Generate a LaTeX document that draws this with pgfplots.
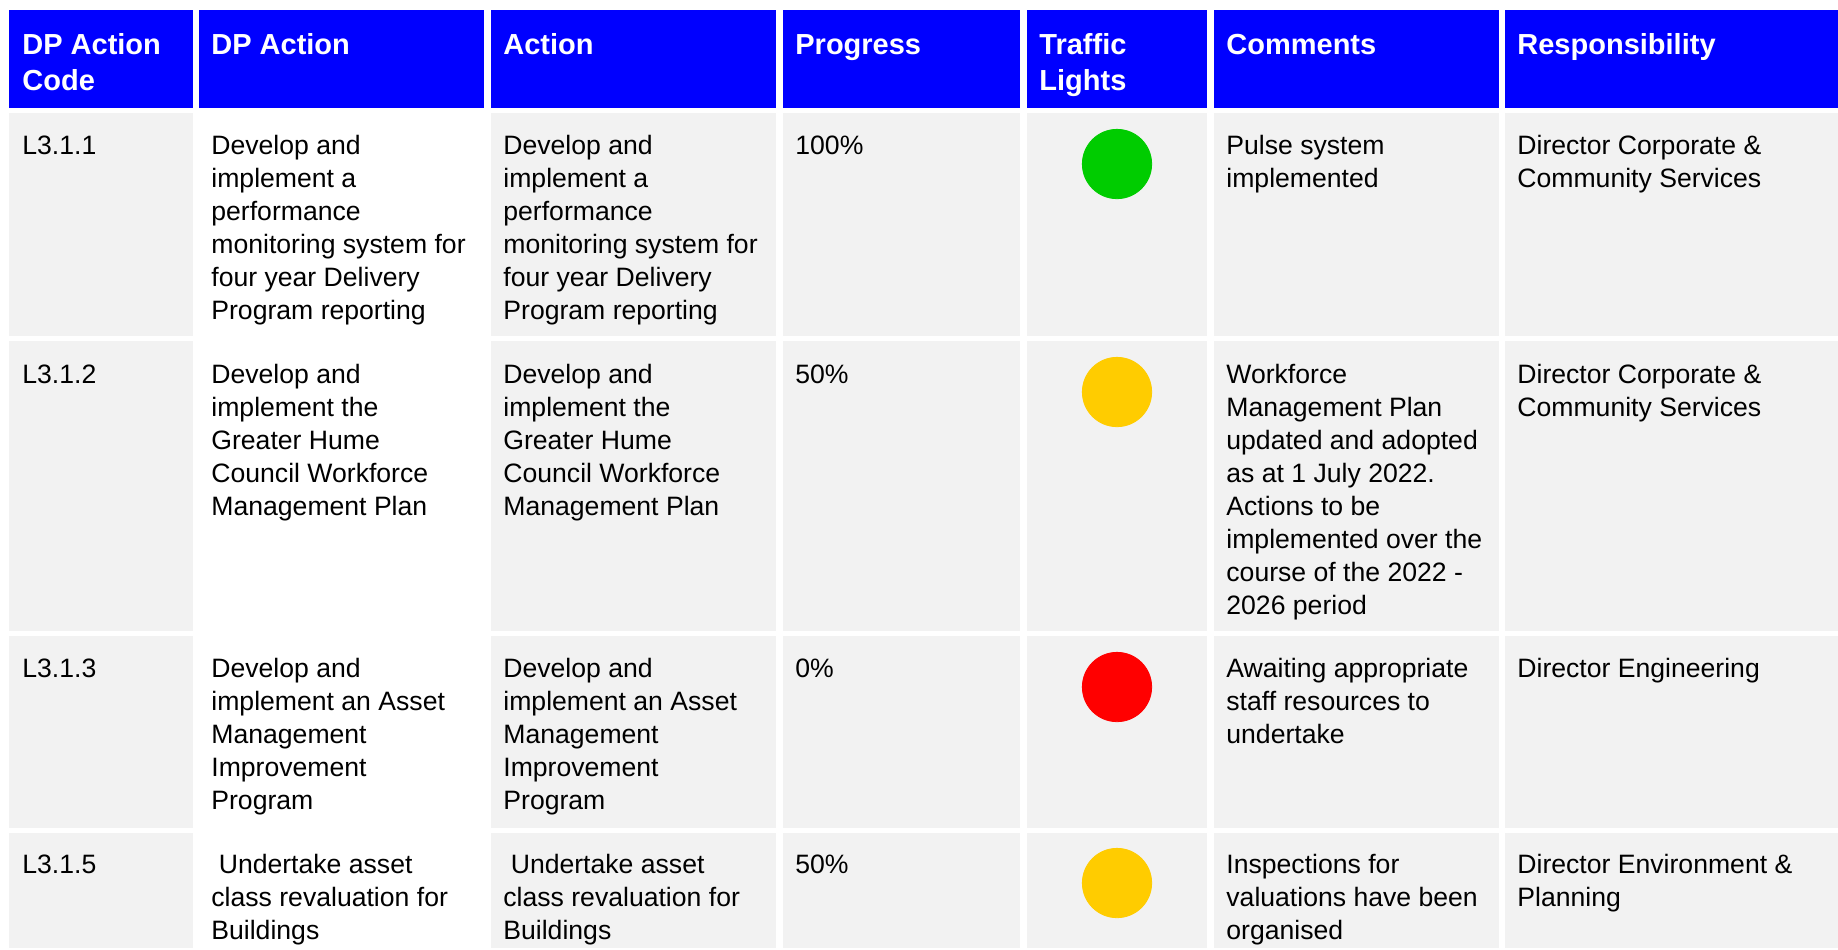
\documentclass[border=0pt]{standalone}
\usepackage{pgfplots}
\pgfplotsset{compat=1.18}
\usepackage{fontspec}
\setmainfont{Liberation Sans}
\definecolor{hblue}{HTML}{0000FF}
\definecolor{cgrey}{HTML}{F2F2F2}
\definecolor{tlgreen}{HTML}{00CC00}
\definecolor{tlyellow}{HTML}{FFCC00}
\definecolor{tlred}{HTML}{FF0000}
\newcommand{\cellbox}[5]{\addplot[fill=#5,draw=none] coordinates {(#1,#2) (#3,#2) (#3,#4) (#1,#4)} -- cycle;}
\newcommand{\hdr}[3]{\node[anchor=base west,inner sep=0pt,text=white] at (axis cs:#1,#2) {\fontsize{14.5bp}{18bp}\selectfont\bfseries\begin{tabular}[t]{@{}l@{}}#3\end{tabular}};}
\newcommand{\bod}[3]{\node[anchor=base west,inner sep=0pt] at (axis cs:#1,#2) {\fontsize{13.3bp}{16.55bp}\selectfont\begin{tabular}[t]{@{}l@{}}#3\end{tabular}};}
\begin{document}
\begin{tikzpicture}
\begin{axis}[
  scale only axis, width=919bp, height=474bp,
  xmin=0, xmax=1838, ymin=0, ymax=948, y dir=reverse,
  hide axis, clip=false]
% white page background (spans the whole axis)
\cellbox{0}{0}{1838}{948}{white}
% header cells
\cellbox{9}{10}{193}{108}{hblue}
\cellbox{199}{10}{484}{108}{hblue}
\cellbox{491}{10}{776}{108}{hblue}
\cellbox{783}{10}{1020}{108}{hblue}
\cellbox{1027}{10}{1207}{108}{hblue}
\cellbox{1214}{10}{1499}{108}{hblue}
\cellbox{1505}{10}{1838}{108}{hblue}
% data rows (column 2 is white)
\cellbox{9}{113}{193}{336}{cgrey}
\cellbox{491}{113}{776}{336}{cgrey}
\cellbox{783}{113}{1020}{336}{cgrey}
\cellbox{1027}{113}{1207}{336}{cgrey}
\cellbox{1214}{113}{1499}{336}{cgrey}
\cellbox{1505}{113}{1838}{336}{cgrey}
\cellbox{9}{341}{193}{631}{cgrey}
\cellbox{491}{341}{776}{631}{cgrey}
\cellbox{783}{341}{1020}{631}{cgrey}
\cellbox{1027}{341}{1207}{631}{cgrey}
\cellbox{1214}{341}{1499}{631}{cgrey}
\cellbox{1505}{341}{1838}{631}{cgrey}
\cellbox{9}{636}{193}{828}{cgrey}
\cellbox{491}{636}{776}{828}{cgrey}
\cellbox{783}{636}{1020}{828}{cgrey}
\cellbox{1027}{636}{1207}{828}{cgrey}
\cellbox{1214}{636}{1499}{828}{cgrey}
\cellbox{1505}{636}{1838}{828}{cgrey}
\cellbox{9}{833}{193}{948}{cgrey}
\cellbox{491}{833}{776}{948}{cgrey}
\cellbox{783}{833}{1020}{948}{cgrey}
\cellbox{1027}{833}{1207}{948}{cgrey}
\cellbox{1214}{833}{1499}{948}{cgrey}
\cellbox{1505}{833}{1838}{948}{cgrey}
% traffic lights
\addplot[only marks, mark=*, mark size=17.4pt, color=tlgreen] coordinates {(1117,164)};
\addplot[only marks, mark=*, mark size=17.4pt, color=tlyellow] coordinates {(1117,392) (1117,883)};
\addplot[only marks, mark=*, mark size=17.4pt, color=tlred] coordinates {(1117,687)};
% header text
\hdr{22}{54}{DP Action\\Code}
\hdr{211}{54}{DP Action}
\hdr{503}{54}{Action}
\hdr{795}{54}{Progress}
\hdr{1039}{54}{Traffic\\Lights}
\hdr{1226}{54}{Comments}
\hdr{1517}{54}{Responsibility}
% row 1
\bod{22}{154}{L3.1.1}
\bod{211}{154}{Develop and\\implement a\\performance\\monitoring system for\\four year Delivery\\Program reporting}
\bod{503}{154}{Develop and\\implement a\\performance\\monitoring system for\\four year Delivery\\Program reporting}
\bod{795}{154}{100\%}
\bod{1226}{154}{Pulse system\\implemented}
\bod{1517}{154}{Director Corporate \&\\Community Services}
% row 2
\bod{22}{383}{L3.1.2}
\bod{211}{383}{Develop and\\implement the\\Greater Hume\\Council Workforce\\Management Plan}
\bod{503}{383}{Develop and\\implement the\\Greater Hume\\Council Workforce\\Management Plan}
\bod{795}{383}{50\%}
\bod{1226}{383}{Workforce\\Management Plan\\updated and adopted\\as at 1 July 2022.\\Actions to be\\implemented over the\\course of the 2022 -\\2026 period}
\bod{1517}{383}{Director Corporate \&\\Community Services}
% row 3
\bod{22}{677}{L3.1.3}
\bod{211}{677}{Develop and\\implement an Asset\\Management\\Improvement\\Program}
\bod{503}{677}{Develop and\\implement an Asset\\Management\\Improvement\\Program}
\bod{795}{677}{0\%}
\bod{1226}{677}{Awaiting appropriate\\staff resources to\\undertake}
\bod{1517}{677}{Director Engineering}
% row 4
\bod{22}{873}{L3.1.5}
\bod{211}{873}{\hspace*{3.7bp}Undertake asset\\class revaluation for\\Buildings}
\bod{503}{873}{\hspace*{3.7bp}Undertake asset\\class revaluation for\\Buildings}
\bod{795}{873}{50\%}
\bod{1226}{873}{Inspections for\\valuations have been\\organised}
\bod{1517}{873}{Director Environment \&\\Planning}
\end{axis}
\end{tikzpicture}
\end{document}
